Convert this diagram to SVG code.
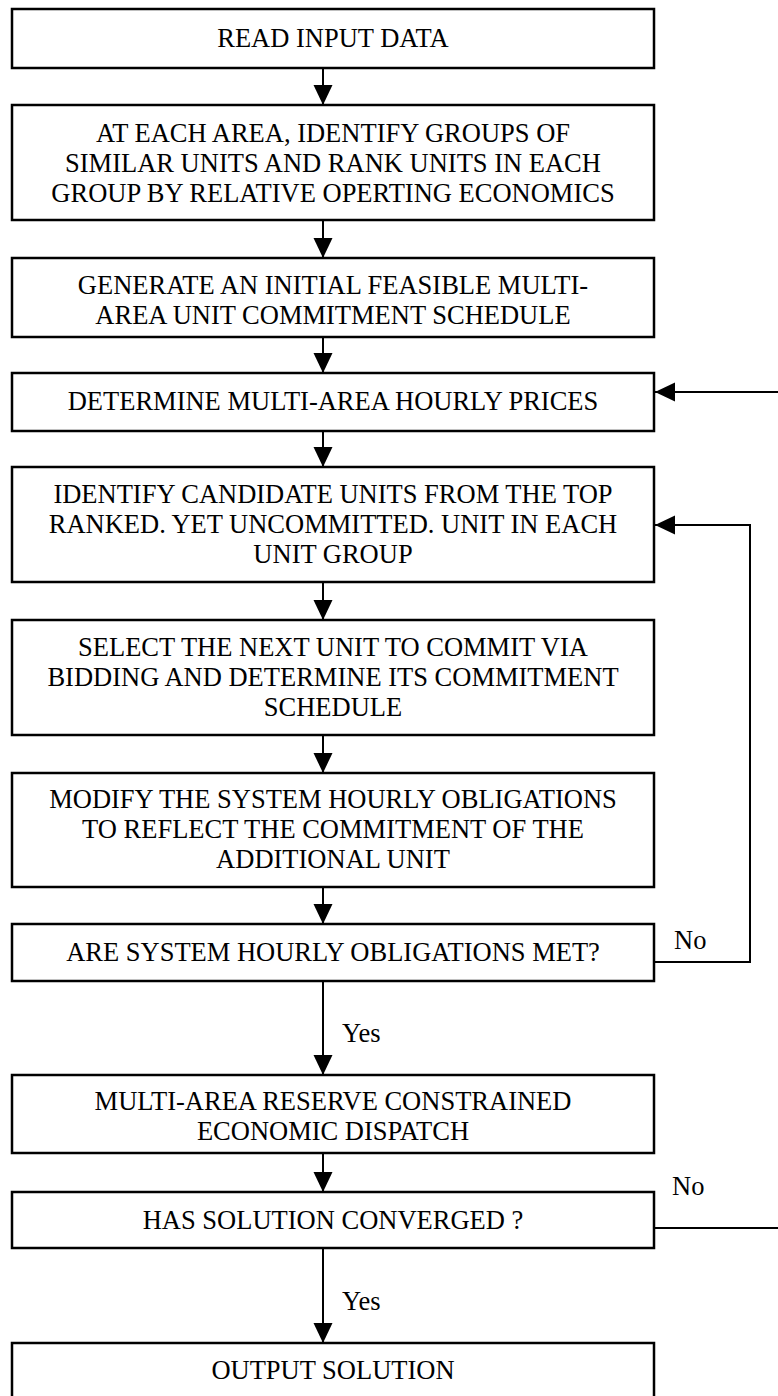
<svg xmlns="http://www.w3.org/2000/svg" width="778" height="1396" viewBox="0 0 778 1396">
<style>
  .box { fill: #fff; stroke: #000; stroke-width: 2.5; }
  .t { font-family: "Liberation Serif", "Times New Roman", serif; font-size: 26.5px; fill: #000; text-anchor: middle; }
  .lbl { font-family: "Liberation Serif", "Times New Roman", serif; font-size: 26.5px; fill: #000; }
  .ln { fill: none; stroke: #000; stroke-width: 2; }
</style>
<defs>
  <marker id="ah" markerUnits="userSpaceOnUse" markerWidth="20" markerHeight="20" refX="20" refY="10" orient="auto" viewBox="0 0 20 20">
    <path d="M0,0.5 L20,10 L0,19.5 Z" fill="#000"/>
  </marker>
</defs>
<rect width="778" height="1396" fill="#fff"/>

<g id="connectors">
  <line class="ln" x1="323" y1="68" x2="323" y2="105" marker-end="url(#ah)"/>
  <line class="ln" x1="323" y1="220" x2="323" y2="258" marker-end="url(#ah)"/>
  <line class="ln" x1="323" y1="337" x2="323" y2="373" marker-end="url(#ah)"/>
  <line class="ln" x1="323" y1="431" x2="323" y2="467" marker-end="url(#ah)"/>
  <line class="ln" x1="323" y1="582" x2="323" y2="620" marker-end="url(#ah)"/>
  <line class="ln" x1="323" y1="735" x2="323" y2="773" marker-end="url(#ah)"/>
  <line class="ln" x1="323" y1="887" x2="323" y2="924" marker-end="url(#ah)"/>
  <line class="ln" x1="323" y1="981" x2="323" y2="1075" marker-end="url(#ah)"/>
  <line class="ln" x1="323" y1="1153" x2="323" y2="1192" marker-end="url(#ah)"/>
  <line class="ln" x1="323" y1="1248" x2="323" y2="1343" marker-end="url(#ah)"/>
  <path class="ln" d="M654,962 H750 V525 H655" marker-end="url(#ah)"/>
  <line class="ln" x1="778" y1="392" x2="655" y2="392" marker-end="url(#ah)"/>
  <line class="ln" x1="654" y1="1228" x2="778" y2="1228"/>
  <text class="lbl" x="342" y="1042">Yes</text>
  <text class="lbl" x="342" y="1310">Yes</text>
  <text class="lbl" x="674" y="949">No</text>
  <text class="lbl" x="672" y="1195">No</text>
</g>

<g id="n1">
  <rect class="box" x="12" y="9" width="642" height="59"/>
  <text class="t" x="333" y="47">READ INPUT DATA</text>
</g>
<g id="n2">
  <rect class="box" x="12" y="105" width="642" height="115"/>
  <text class="t" x="333" y="142">AT EACH AREA, IDENTIFY GROUPS OF</text>
  <text class="t" x="333" y="172">SIMILAR UNITS AND RANK UNITS IN EACH</text>
  <text class="t" x="333" y="202">GROUP BY RELATIVE OPERTING ECONOMICS</text>
</g>
<g id="n3">
  <rect class="box" x="12" y="258" width="642" height="79"/>
  <text class="t" x="333" y="294">GENERATE AN INITIAL FEASIBLE MULTI-</text>
  <text class="t" x="333" y="324">AREA UNIT COMMITMENT SCHEDULE</text>
</g>
<g id="n4">
  <rect class="box" x="12" y="373" width="642" height="58"/>
  <text class="t" x="333" y="410">DETERMINE MULTI-AREA HOURLY PRICES</text>
</g>
<g id="n5">
  <rect class="box" x="12" y="467" width="642" height="115"/>
  <text class="t" x="333" y="503">IDENTIFY CANDIDATE UNITS FROM THE TOP</text>
  <text class="t" x="333" y="533">RANKED. YET UNCOMMITTED. UNIT IN EACH</text>
  <text class="t" x="333" y="563">UNIT GROUP</text>
</g>
<g id="n6">
  <rect class="box" x="12" y="620" width="642" height="115"/>
  <text class="t" x="333" y="656">SELECT THE NEXT UNIT TO COMMIT VIA</text>
  <text class="t" x="333" y="686">BIDDING AND DETERMINE ITS COMMITMENT</text>
  <text class="t" x="333" y="716">SCHEDULE</text>
</g>
<g id="n7">
  <rect class="box" x="12" y="773" width="642" height="114"/>
  <text class="t" x="333" y="808">MODIFY THE SYSTEM HOURLY OBLIGATIONS</text>
  <text class="t" x="333" y="838">TO REFLECT THE COMMITMENT OF THE</text>
  <text class="t" x="333" y="868">ADDITIONAL UNIT</text>
</g>
<g id="n8">
  <rect class="box" x="12" y="924" width="642" height="57"/>
  <text class="t" x="333" y="961">ARE SYSTEM HOURLY OBLIGATIONS MET?</text>
</g>
<g id="n9">
  <rect class="box" x="12" y="1075" width="642" height="78"/>
  <text class="t" x="333" y="1110">MULTI-AREA RESERVE CONSTRAINED</text>
  <text class="t" x="333" y="1140">ECONOMIC DISPATCH</text>
</g>
<g id="n10">
  <rect class="box" x="12" y="1192" width="642" height="56"/>
  <text class="t" x="333" y="1229">HAS SOLUTION CONVERGED ?</text>
</g>
<g id="n11">
  <rect class="box" x="12" y="1343" width="642" height="60"/>
  <text class="t" x="333" y="1379">OUTPUT SOLUTION</text>
</g>
</svg>
